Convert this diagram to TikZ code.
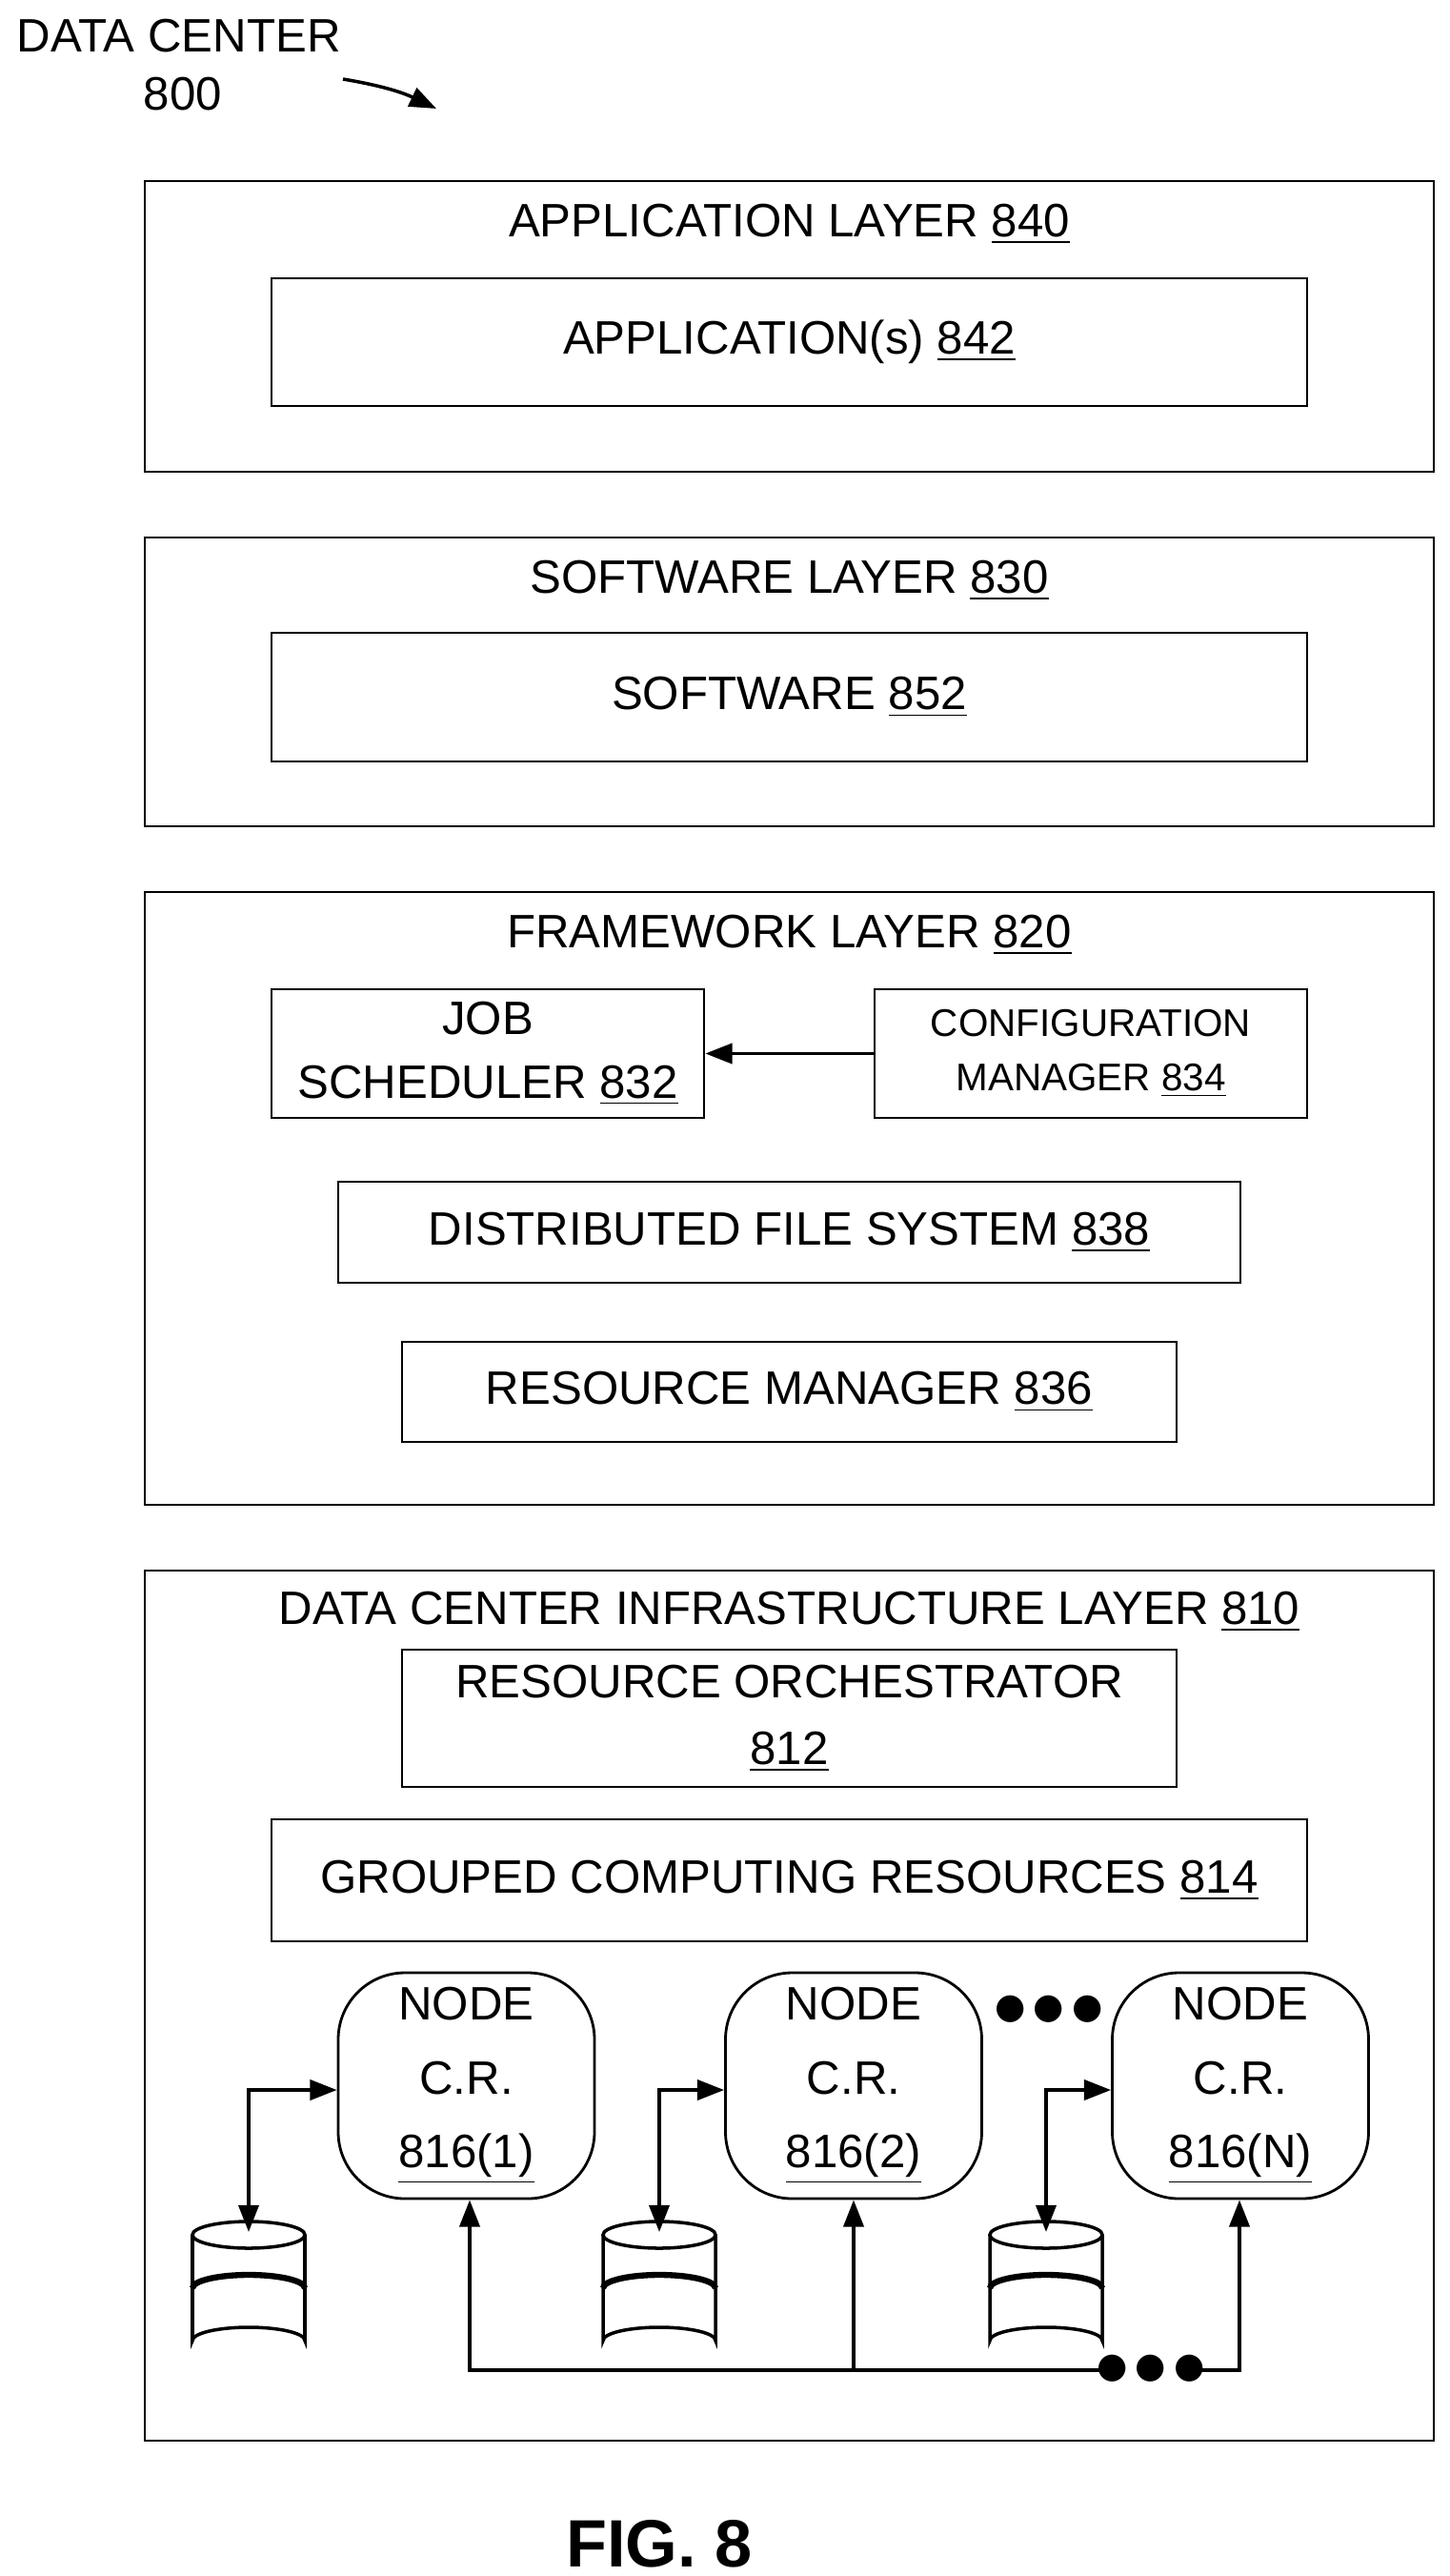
\documentclass[tikz,border=0pt]{standalone}
\usepackage{fontspec}
\setmainfont{Liberation Sans}
\usetikzlibrary{arrows.meta}
\tikzset{
  layer/.style={draw, line width=0.8pt, minimum width=13.53cm, inner sep=0pt},
  box/.style={draw, line width=0.8pt, inner sep=0pt, align=center, font=\fontsize{14}{19}\selectfont},
  crnode/.style={box, rounded corners=0.7cm, minimum width=2.69cm, minimum height=2.37cm, font=\fontsize{14}{22}\selectfont},
  title/.style={font=\fontsize{14}{17}\selectfont, inner sep=0pt},
  link/.style={line width=1pt, -{Triangle[length=8pt,width=6pt]}},
  dlink/.style={line width=1pt, {Triangle[length=8pt,width=6pt]}-{Triangle[length=8pt,width=6pt]}},
}
\newcommand{\dbcyl}[2]{%
  \draw[line width=1pt, fill=white] (#1-0.59,#2+0.14) -- (#1-0.59,#2+1.25)
    arc[start angle=180, end angle=360, x radius=0.59, y radius=0.14]
    -- (#1+0.59,#2+0.14);
  \draw[line width=1pt] (#1,#2+0.14) ellipse[x radius=0.59, y radius=0.14];
  \draw[line width=1.8pt] (#1-0.59,#2+0.7) arc[start angle=180, end angle=360, x radius=0.59, y radius=0.14];
}
\begin{document}
\begin{tikzpicture}[y=-1cm]
\useasboundingbox (0,0) rectangle (15.22,27.03);
% title
\node[title, anchor=west] (dc) at (0.17,0.38) {DATA CENTER};
\node[title] (dcnum) at (1.92,0.99) {800};
\coordinate (ar0) at (3.60,0.83);
\coordinate (ar1) at (4.58,1.14);
\draw[link] (ar0) to[bend left=8] (ar1);
% application layer
\node[layer, minimum height=3.05cm] (app) at (8.285,3.425) {};
\node[title] (appt) at (8.285,2.35) {APPLICATION LAYER \underline{840}};
\node[box, minimum width=10.87cm, minimum height=1.34cm] (apps) at (8.285,3.59) {APPLICATION(s) \underline{842}};
% software layer
\node[layer, minimum height=3.03cm] (sw) at (8.285,7.155) {};
\node[title] (swt) at (8.285,6.09) {SOFTWARE LAYER \underline{830}};
\node[box, minimum width=10.87cm, minimum height=1.35cm] (soft) at (8.285,7.315) {SOFTWARE \underline{852}};
% framework layer
\node[layer, minimum height=6.43cm] (fw) at (8.285,12.575) {};
\node[title] (fwt) at (8.285,9.81) {FRAMEWORK LAYER \underline{820}};
\node[box, minimum width=4.54cm, minimum height=1.35cm] (job) at (5.12,11.055) {JOB\\SCHEDULER \underline{832}};
\node[box, minimum width=4.54cm, minimum height=1.35cm, font=\fontsize{11.5}{16}\selectfont] (cfg) at (11.45,11.055) {CONFIGURATION\\MANAGER \underline{834}};
\draw[link] (cfg) -- (job);
\node[box, minimum width=9.47cm, minimum height=1.06cm] (dfs) at (8.285,12.93) {DISTRIBUTED FILE SYSTEM \underline{838}};
\node[box, minimum width=8.13cm, minimum height=1.05cm] (rm) at (8.285,14.605) {RESOURCE MANAGER \underline{836}};
% infrastructure layer
\node[layer, minimum height=9.13cm] (infra) at (8.285,21.045) {};
\node[title] (infrat) at (8.285,16.91) {DATA CENTER INFRASTRUCTURE LAYER \underline{810}};
\node[box, minimum width=8.13cm, minimum height=1.44cm, font=\fontsize{14}{20}\selectfont] (ro) at (8.285,18.03) {RESOURCE ORCHESTRATOR\\\underline{812}};
\node[box, minimum width=10.87cm, minimum height=1.28cm] (gcr) at (8.285,19.73) {GROUPED COMPUTING RESOURCES \underline{814}};
\node[crnode] (n1) at (4.895,21.885) {NODE\\C.R.\\\underline{816(1)}};
\node[crnode] (n2) at (8.96,21.885) {NODE\\C.R.\\\underline{816(2)}};
\node[crnode] (nN) at (13.02,21.885) {NODE\\C.R.\\\underline{816(N)}};
\node[title, font=\fontsize{20}{20}\selectfont] (dots1) at (11.01,21.1) {$\bullet\!\bullet\!\bullet$};
% storage
\dbcyl{2.61}{23.31}
\dbcyl{6.92}{23.31}
\dbcyl{10.98}{23.31}
\coordinate (s1) at (2.61,23.42);
\coordinate (s2) at (6.92,23.42);
\coordinate (sN) at (10.98,23.42);
\draw[dlink] (s1) |- (n1.west |- 0,21.93);
\draw[dlink] (s2) |- (n2.west |- 0,21.93);
\draw[dlink] (sN) |- (nN.west |- 0,21.93);
% bus
\coordinate (b1) at (4.93,24.87);
\coordinate (b2) at (8.96,24.87);
\coordinate (bd) at (11.62,24.87);
\coordinate (bd2) at (12.54,24.87);
\coordinate (bN) at (13.01,24.87);
\node[title, font=\fontsize{20}{20}\selectfont] (dots2) at (12.08,24.87) {$\bullet\!\bullet\!\bullet$};
\draw[link] (bd) -- (b1) -- (n1.south -| b1);
\draw[link] (b2) -- (n2.south);
\draw[link] (bd2) -- (bN) -- (nN.south -| bN);
% caption
\node[title, font=\bfseries\fontsize{20}{20}\selectfont] (fig) at (6.92,26.69) {FIG. 8};
\end{tikzpicture}
\end{document}
